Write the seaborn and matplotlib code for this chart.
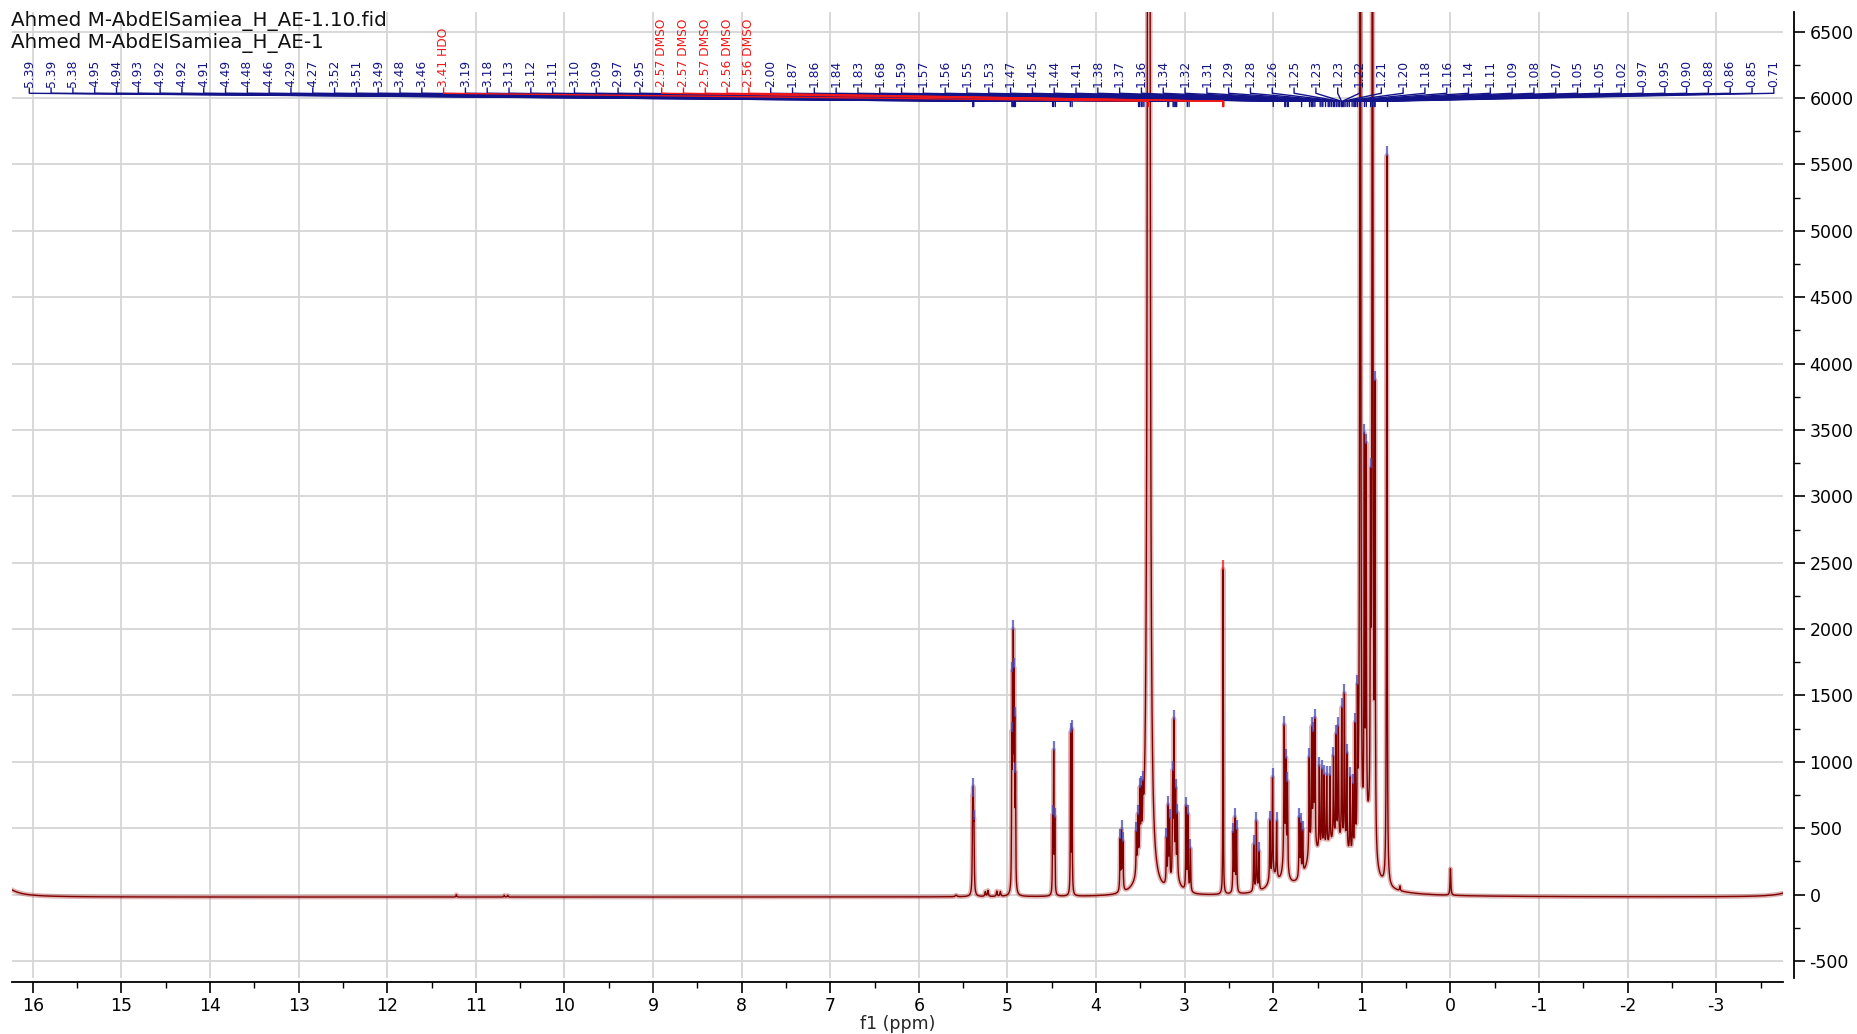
import numpy as np
import matplotlib
matplotlib.use('Agg')
import matplotlib.pyplot as plt
from matplotlib.ticker import MultipleLocator
import seaborn as sns

# peak table: centre (ppm), height, half width at half height (ppm)
peak_ppm = [16.40, 11.22, 10.68, 10.64, 5.58,
            5.393, 5.386, 5.378, 5.25, 5.22, 5.12, 5.08,
            4.951, 4.943, 4.934, 4.926, 4.918, 4.909,
            4.490, 4.478, 4.466, 4.287, 4.272,
            3.728, 3.712, 3.697, 3.545, 3.527, 3.505, 3.490, 3.470, 3.50,
            3.405,
            3.205, 3.186, 3.170, 3.135, 3.121, 3.102, 3.083, 2.983, 2.963, 2.935, 3.10,
            2.566,
            2.452, 2.434, 2.414, 2.220, 2.190, 2.162,
            2.038, 2.008, 1.962, 2.00, 1.876, 1.857, 1.840, 1.87,
            1.707, 1.690, 1.668,
            1.594, 1.566, 1.547, 1.530, 1.56,
            1.480, 1.453, 1.427, 1.397, 1.360, 1.320, 1.290, 1.265, 1.227, 1.197,
            1.170, 1.133, 1.103, 1.077, 1.050, 1.30,
            1.018, 0.972, 0.952, 0.902, 0.880, 0.852, 0.93, 0.718,
            0.57, 0.0, -3.95]
peak_height = [120, 18, 12, 12, 12,
               580, 600, 430, 35, 45, 40, 35,
               1000, 1360, 1640, 1320, 1040, 760,
               550, 1040, 530, 1195, 1215,
               380, 430, 350, 300, 370, 480, 410, 310, 100,
               40000,
               330, 560, 450, 740, 1130, 610, 470, 620, 560, 320, 100,
               2450,
               440, 540, 460, 350, 520, 290,
               450, 740, 420, 100, 1050, 750, 650, 130,
               440, 380, 320,
               710, 840, 770, 920, 220,
               640, 610, 560, 540, 510, 630, 780, 850, 1020, 1150,
               720, 580, 520, 950, 1050, 380,
               12000, 2900, 2800, 2300, 11000, 3350, 300, 5500,
               35, 200, 80]
peak_hwhm = [0.15, 0.004, 0.004, 0.004, 0.01,
             0.004, 0.004, 0.004, 0.006, 0.006, 0.006, 0.006,
             0.003, 0.003, 0.003, 0.003, 0.003, 0.003,
             0.003, 0.003, 0.003, 0.003, 0.003,
             0.004, 0.004, 0.004, 0.004, 0.004, 0.004, 0.004, 0.005, 0.06,
             0.007,
             0.004, 0.004, 0.004, 0.004, 0.004, 0.004, 0.004, 0.004, 0.004, 0.004, 0.06,
             0.0025,
             0.004, 0.004, 0.004, 0.004, 0.004, 0.004,
             0.004, 0.004, 0.004, 0.06, 0.005, 0.004, 0.004, 0.04,
             0.004, 0.004, 0.004,
             0.004, 0.004, 0.004, 0.004, 0.06,
             0.004, 0.004, 0.004, 0.004, 0.004, 0.004, 0.004, 0.004, 0.004, 0.004,
             0.004, 0.004, 0.004, 0.004, 0.004, 0.22,
             0.005, 0.004, 0.004, 0.004, 0.005, 0.004, 0.05, 0.004,
             0.004, 0.005, 0.15]
baseline_offset = -18

# multiplet labels along the top
label_values = [5.39, 5.39, 5.38, 4.95, 4.94, 4.93, 4.92, 4.92, 4.91, 4.49, 4.48, 4.46,
                4.29, 4.27, 3.52, 3.51, 3.49, 3.48, 3.46, 3.41, 3.19, 3.18, 3.13, 3.12,
                3.11, 3.10, 3.09, 2.97, 2.95, 2.57, 2.57, 2.57, 2.56, 2.56, 2.00, 1.87,
                1.86, 1.84, 1.83, 1.68, 1.59, 1.57, 1.56, 1.55, 1.53, 1.47, 1.45, 1.44,
                1.41, 1.38, 1.37, 1.36, 1.34, 1.32, 1.31, 1.29, 1.28, 1.26, 1.25, 1.23,
                1.23, 1.22, 1.21, 1.20, 1.18, 1.16, 1.14, 1.11, 1.09, 1.08, 1.07, 1.05,
                1.05, 1.02, 0.97, 0.95, 0.90, 0.88, 0.86, 0.85, 0.71]
label_tags = [''] * 19 + ['HDO'] + [''] * 9 + ['DMSO'] * 5 + [''] * 47

title_lines = ['Ahmed M-AbdElSamiea_H_AE-1.10.fid', 'Ahmed M-AbdElSamiea_H_AE-1']

# build spectrum
ppm = np.arange(16.3, -3.9, -0.0004)
spec = np.full(ppm.shape, float(baseline_offset))
for c, h, w in zip(peak_ppm, peak_height, peak_hwhm):
    spec += h * w ** 2 / ((ppm - c) ** 2 + w ** 2)

sns.set_theme(style='white')
plt.rcParams['font.family'] = ['DejaVu Sans']
plt.rcParams['axes.unicode_minus'] = False

navy = '#14148a'
red = '#f01818'

fig = plt.figure(figsize=(18.58, 10.34), dpi=100)
ax = fig.add_axes([0.00646, 0.0542, 0.9532, 0.9342])

sns.lineplot(x=ppm, y=spec, ax=ax, color='#b54646', lw=3.4, alpha=0.4,
             estimator=None, sort=False)
sns.lineplot(x=ppm, y=spec, ax=ax, color='#800000', lw=1.0,
             estimator=None, sort=False)

# peak pick marks
for c, h, w in zip(peak_ppm, peak_height, peak_hwhm):
    if w <= 0.006 and 250 <= h <= 6000:
        top = np.interp(c, ppm[::-1], spec[::-1])
        col = red if 2.5 < c < 2.6 else '#4a4ab8'
        ax.plot([c], [top + 30], marker='|', ms=7, mew=1.6, color=col, alpha=0.75)

ax.set_xlim(16.235, -3.754)
ax.set_ylim(-627, 6647)

# labels with leader lines
n = len(label_values)
label_x = np.linspace(16.04, -3.65, n)
order = [i for i in range(n) if not label_tags[i]] + [i for i in range(n) if label_tags[i]]
for i in order:
    val, tag, lx = label_values[i], label_tags[i], label_x[i]
    col = red if tag else navy
    ax.plot([lx, lx, val, val], [6075, 6035, 5975, 5935], color=col, lw=1.0, clip_on=False)
    txt = f'{val:.2f}' + (' ' + tag if tag else '')
    ax.text(lx, 6085, txt, rotation=90, ha='center', va='bottom', fontsize=8.8, color=col)

# axes styling
ax.grid(True, which='major', color='#d6d6d6', lw=1.3)
ax.set_axisbelow(True)
ax.xaxis.set_major_locator(MultipleLocator(1))
ax.xaxis.set_minor_locator(MultipleLocator(0.5))
ax.yaxis.set_major_locator(MultipleLocator(500))
ax.yaxis.set_minor_locator(MultipleLocator(250))
ax.yaxis.tick_right()
for s in ['left', 'top']:
    ax.spines[s].set_visible(False)
for s in ['right', 'bottom']:
    ax.spines[s].set_visible(True)
    ax.spines[s].set_color('black')
    ax.spines[s].set_linewidth(1.3)
ax.spines['bottom'].set_position(('outward', 3))
ax.spines['right'].set_position(('outward', 8))
ax.tick_params(axis='both', which='major', direction='out', length=8, width=1.2,
               labelsize=12.5, colors='black', pad=3)
ax.tick_params(axis='both', which='minor', direction='out', length=4, width=1.0, colors='black')
ax.tick_params(axis='y', which='both', right=True, left=False, labelright=True, labelleft=False)
ax.tick_params(axis='x', which='both', bottom=True, top=False)
ax.set_xlabel('f1 (ppm)', fontsize=12.5, labelpad=0)
ax.set_ylabel('')

for k, line in enumerate(title_lines):
    fig.text(0.006, 1 - (21 + 22 * k) / 1034, line, fontsize=14.3, ha='left', va='center', color='#111111')

fig.savefig('out.png', dpi=100, facecolor='white')
